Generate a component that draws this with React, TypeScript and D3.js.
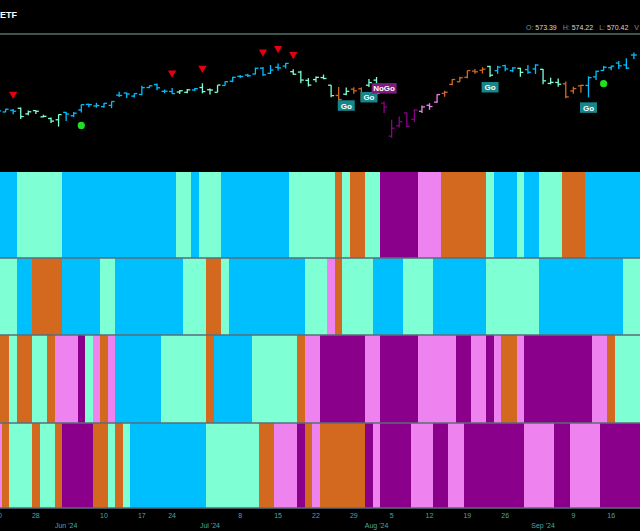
import React, { useEffect } from "react";
import * as d3 from "d3";

// ---------- DATA ----------
const dates = [
  "2024-05-17",
  "2024-05-20", "2024-05-21", "2024-05-22", "2024-05-23", "2024-05-24",
  "2024-05-28", "2024-05-29", "2024-05-30", "2024-05-31",
  "2024-06-03", "2024-06-04", "2024-06-05", "2024-06-06", "2024-06-07",
  "2024-06-10", "2024-06-11", "2024-06-12", "2024-06-13", "2024-06-14",
  "2024-06-17", "2024-06-18", "2024-06-20", "2024-06-21",
  "2024-06-24", "2024-06-25", "2024-06-26", "2024-06-27", "2024-06-28",
  "2024-07-01", "2024-07-02", "2024-07-03", "2024-07-05",
  "2024-07-08", "2024-07-09", "2024-07-10", "2024-07-11", "2024-07-12",
  "2024-07-15", "2024-07-16", "2024-07-17", "2024-07-18", "2024-07-19",
  "2024-07-22", "2024-07-23", "2024-07-24", "2024-07-25", "2024-07-26",
  "2024-07-29", "2024-07-30", "2024-07-31", "2024-08-01", "2024-08-02",
  "2024-08-05", "2024-08-06", "2024-08-07", "2024-08-08", "2024-08-09",
  "2024-08-12", "2024-08-13", "2024-08-14", "2024-08-15", "2024-08-16",
  "2024-08-19", "2024-08-20", "2024-08-21", "2024-08-22", "2024-08-23",
  "2024-08-26", "2024-08-27", "2024-08-28", "2024-08-29", "2024-08-30",
  "2024-09-03", "2024-09-04", "2024-09-05", "2024-09-06",
  "2024-09-09", "2024-09-10", "2024-09-11", "2024-09-12", "2024-09-13",
  "2024-09-16", "2024-09-17", "2024-09-18", "2024-09-19", "2024-09-20",
];

const opens = [
  528.8,
  529.6, 529.3, 530.6, 532.0, 527.9,
  530.3, 525.7, 524.5, 523.6,
  529.0, 526.5, 530.8, 534.9, 533.7,
  533.2, 534.1, 541.6, 543.2, 540.9,
  542.1, 547.2, 549.4, 544.4,
  544.3, 543.9, 543.7, 545.4, 547.2,
  545.6, 543.7, 548.7, 551.8,
  555.4, 556.3, 557.1, 561.4, 557.6,
  562.0, 562.9, 558.8, 558.5, 552.4,
  553.0, 554.5, 548.9, 541.4, 542.3,
  546.0, 546.3, 548.9, 552.6, 535.8,
  511.6, 519.2, 528.6, 523.9, 529.8,
  534.2, 536.5, 542.9, 549.5, 551.4,
  554.7, 559.2, 559.8, 562.6, 559.5,
  563.2, 559.5, 561.2, 560.3, 560.8,
  560.5, 550.2, 550.9, 549.9,
  544.7, 548.4, 548.7, 555.0, 559.7,
  561.7, 565.1, 563.7, 571.0,
];
const highs = [
  529.5,
  531.6, 531.5, 531.4, 532.5, 530.3,
  530.5, 527.3, 525.2, 527.5,
  529.3, 529.2, 534.7, 535.4, 536.0,
  535.8, 537.0, 544.1, 543.3, 542.8,
  548.5, 548.6, 550.1, 545.7,
  546.9, 545.2, 546.2, 546.9, 550.3,
  546.5, 549.0, 551.8, 555.1,
  556.2, 557.2, 561.7, 562.3, 563.7,
  564.8, 565.2, 560.5, 559.5, 554.1,
  555.3, 556.7, 549.1, 547.5, 547.2,
  547.4, 547.3, 553.5, 554.9, 536.9,
  523.6, 525.9, 529.0, 531.3, 534.0,
  535.7, 542.3, 544.9, 553.4, 555.0,
  559.6, 560.8, 562.1, 563.2, 563.1,
  563.9, 562.1, 561.7, 563.7, 564.2,
  560.8, 554.4, 553.8, 551.6,
  547.7, 549.2, 555.4, 559.4, 563.0,
  563.1, 566.6, 568.7, 572.9,
];
const lows = [
  527.5,
  529.2, 529.1, 527.6, 524.2, 526.9,
  527.9, 525.4, 521.3, 518.6,
  522.6, 525.6, 529.0, 532.7, 532.4,
  532.3, 532.1, 540.3, 539.6, 539.9,
  541.6, 546.7, 545.2, 543.0,
  542.6, 542.4, 543.0, 544.6, 542.9,
  542.0, 543.7, 548.6, 551.1,
  554.2, 554.9, 556.8, 555.8, 557.1,
  559.7, 561.1, 556.6, 550.4, 547.9,
  551.0, 553.3, 540.0, 537.5, 541.5,
  542.7, 537.5, 547.6, 539.4, 528.6,
  510.3, 518.0, 518.1, 521.8, 528.6,
  530.9, 536.1, 540.4, 548.9, 551.3,
  553.9, 557.3, 557.4, 554.9, 557.2,
  559.1, 558.3, 555.0, 557.2, 557.1,
  549.5, 549.5, 547.7, 539.4,
  542.7, 543.4, 540.0, 552.7, 559.5,
  559.9, 560.8, 560.8, 568.1,
];
const closes = [
  529.45,
  530.06, 531.36, 529.83, 525.96, 529.44,
  529.81, 526.10, 522.61, 527.37,
  527.80, 528.39, 534.67, 534.66, 534.01,
  535.66, 536.95, 541.36, 542.45, 542.78,
  547.10, 548.49, 547.00, 544.51,
  542.74, 544.83, 545.51, 546.37, 544.22,
  545.34, 549.01, 551.46, 554.64,
  555.28, 555.82, 561.32, 556.48, 559.99,
  561.53, 564.86, 556.94, 552.66, 548.99,
  554.65, 553.78, 541.23, 538.41, 544.44,
  544.76, 542.00, 550.81, 543.01, 532.90,
  517.38, 522.15, 518.66, 530.65, 532.99,
  533.27, 542.04, 543.75, 553.07, 554.31,
  559.61, 558.70, 560.62, 556.22, 562.13,
  560.79, 561.56, 558.30, 558.35, 563.68,
  552.08, 550.95, 549.61, 540.36,
  546.41, 548.79, 554.42, 559.09, 562.01,
  562.84, 563.07, 561.40, 570.98,
];

// trend codes: B = strong Go, A = weak Go, O = amber, P = weak NoGo, M = strong NoGo
const band1 = [
  "B",
  "B", "B", "B", "A", "A",
  "A", "A", "A", "A",
  "B", "B", "B", "B", "B",
  "B", "B", "B", "B", "B",
  "B", "B", "B", "B",
  "B", "A", "A", "B", "A",
  "A", "A", "B", "B",
  "B", "B", "B", "B", "B",
  "B", "B", "A", "A", "A",
  "A", "A", "A", "O", "A",
  "O", "O", "A", "A", "M",
  "M", "M", "M", "M", "P",
  "P", "P", "O", "O", "O",
  "O", "O", "O", "A", "B",
  "B", "B", "A", "B", "B",
  "A", "A", "A", "O",
  "O", "O", "B", "B", "B",
  "B", "B", "B", "B", "B",
];
const band2 = [
  "A",
  "A", "A", "A", "B", "B",
  "O", "O", "O", "O",
  "B", "B", "B", "B", "B",
  "A", "A", "B", "B", "B",
  "B", "B", "B", "B",
  "B", "B", "A", "A", "A",
  "O", "O", "A", "B",
  "B", "B", "B", "B", "B",
  "B", "B", "B", "B", "A",
  "A", "A", "P", "O", "A",
  "A", "A", "A", "B", "B",
  "B", "B", "A", "A", "A",
  "A", "B", "B", "B", "B",
  "B", "B", "B", "A", "A",
  "A", "A", "A", "A", "A",
  "B", "B", "B", "B",
  "B", "B", "B", "B", "B",
  "B", "B", "A", "A", "A",
];
const band3 = [
  "O",
  "O", "O", "A", "O", "O",
  "A", "A", "O", "P",
  "P", "P", "M", "A", "P",
  "O", "P", "B", "B", "B",
  "B", "B", "B", "A",
  "A", "A", "A", "A", "A",
  "O", "B", "B", "B",
  "B", "B", "A", "A", "A",
  "A", "A", "A", "O", "P",
  "P", "M", "M", "M", "M",
  "M", "M", "P", "P", "M",
  "M", "M", "M", "M", "P",
  "P", "P", "P", "P", "M",
  "M", "P", "P", "M", "P",
  "O", "O", "P", "M", "M",
  "M", "M", "M", "M",
  "M", "M", "M", "P", "P",
  "O", "A", "A", "A", "A",
];
const band4 = [
  "P",
  "P", "O", "A", "A", "A",
  "O", "A", "A", "O",
  "M", "M", "M", "M", "O",
  "O", "A", "O", "A", "B",
  "B", "B", "B", "B",
  "B", "B", "B", "B", "B",
  "A", "A", "A", "A",
  "A", "A", "A", "O", "O",
  "P", "P", "P", "M", "O",
  "P", "O", "O", "O", "O",
  "O", "O", "M", "P", "M",
  "M", "M", "M", "P", "P",
  "P", "M", "M", "P", "P",
  "M", "M", "M", "M", "M",
  "M", "M", "M", "P", "P",
  "P", "P", "M", "M",
  "P", "P", "P", "P", "M",
  "M", "M", "M", "M", "M",
];

const trendKeys = ["B", "A", "O", "P", "M"];
const trendColors = ["#00bfff", "#7fffd4", "#d2691e", "#ee82ee", "#8b008b"];

const sellSignals = ["2024-05-22", "2024-06-24", "2024-06-28", "2024-07-11", "2024-07-15", "2024-07-17"];
const buySignals = ["2024-06-05", "2024-09-13"];
const goLabels = ["2024-07-26", "2024-07-31", "2024-08-22", "2024-09-11"];
const noGoLabels = ["2024-08-02"];

const dayTicks = [
  "2024-05-20", "2024-05-28", "2024-06-10", "2024-06-17", "2024-06-24",
  "2024-07-08", "2024-07-15", "2024-07-22", "2024-07-29", "2024-08-05",
  "2024-08-12", "2024-08-19", "2024-08-26", "2024-09-09", "2024-09-16",
];
const monthTicks = ["2024-06-03", "2024-07-01", "2024-08-01", "2024-09-03"];
const monthLabels = ["Jun '24", "Jul '24", "Aug '24", "Sep '24"];

const titleText = "ETF";
const ohlcLabels = ["O:", "H:", "L:", "V"];
const ohlcValues = ["573.39", "574.22", "570.42", ""];

// ---------- COMPONENT ----------
export default function App() {
  useEffect(() => {
    document.body.style.margin = "0";
    document.body.style.background = "#000";
  }, []);

  const W = 640;
  const H = 531;
  const font = "'Liberation Sans', Arial, sans-serif";

  const x = d3.scaleBand<string>().domain(dates).range([-13.335, 645.255]).padding(0);
  const bw = x.bandwidth();
  const cx = (d: string) => (x(d) as number) + bw / 2;
  const y = d3.scaleLinear().domain([500, 580]).range([152, 42.7]);
  const color = d3.scaleOrdinal<string, string>().domain(trendKeys).range(trendColors);

  const idx = (d: string) => dates.indexOf(d);

  const bands = [
    { codes: band1, y0: 172, y1: 258 },
    { codes: band2, y0: 258, y1: 335 },
    { codes: band3, y0: 335, y1: 423 },
    { codes: band4, y0: 423, y1: 508 },
  ];

  const tri = d3.symbol().type(d3.symbolTriangle).size(30);

  return (
    <svg width={W} height={H} style={{ display: "block", background: "#000" }}>
      <rect x={0} y={0} width={W} height={H} fill="#000" />
      {/* header */}
      <text x={0} y={18} fill="#ffffff" fontFamily={font} fontSize={9} fontWeight="bold">
        {titleText}
      </text>
      <text x={526} y={29.5} fontFamily={font} fontSize={7}>
        {ohlcLabels.map((l, i) => (
          <tspan key={i} dx={i === 0 ? 0 : 6}>
            <tspan fill="#8a8a8a">{l} </tspan>
            <tspan fill="#d8d8d8">{ohlcValues[i]}</tspan>
          </tspan>
        ))}
      </text>
      <line x1={0} x2={W} y1={34} y2={34} stroke="#3b5651" strokeWidth={2} />

      {/* price bars */}
      <g>
        {closes.map((c, i) => {
          const d = dates[i];
          const xc = cx(d);
          const col = color(band1[i]);
          return (
            <g key={d} stroke={col} strokeWidth={1.3}>
              <line x1={xc} x2={xc} y1={y(highs[i])} y2={y(lows[i])} />
              <line x1={xc - 3} x2={xc} y1={y(opens[i])} y2={y(opens[i])} />
              <line x1={xc} x2={xc + 3} y1={y(c)} y2={y(c)} />
            </g>
          );
        })}
      </g>

      {/* sell signals */}
      {sellSignals.map((d) => {
        const i = idx(d);
        return (
          <path
            key={d}
            d={tri() as string}
            transform={`translate(${cx(d)},${y(highs[i]) - 15}) rotate(180)`}
            fill="#e3000f"
          />
        );
      })}
      {/* buy signals */}
      {buySignals.map((d) => {
        const i = idx(d);
        return <circle key={d} cx={cx(d)} cy={y(lows[i]) + 13} r={3.6} fill="#22dd22" />;
      })}
      {/* Go labels */}
      {goLabels.map((d) => {
        const i = idx(d);
        const top = y(lows[i]) + 5;
        return (
          <g key={d}>
            <rect x={cx(d) - 8.5} y={top} width={17} height={10.5} fill="#16868a" />
            <text
              x={cx(d)}
              y={top + 8.3}
              textAnchor="middle"
              fill="#ffffff"
              fontFamily={font}
              fontSize={8}
              fontWeight="bold"
            >
              Go
            </text>
          </g>
        );
      })}
      {noGoLabels.map((d) => {
        const i = idx(d);
        const bottom = y(highs[i]) - 8;
        return (
          <g key={d}>
            <rect x={cx(d) - 12.5} y={bottom - 10.5} width={25} height={10.5} fill="#7d1d7d" />
            <text
              x={cx(d)}
              y={bottom - 2.2}
              textAnchor="middle"
              fill="#ffffff"
              fontFamily={font}
              fontSize={8}
              fontWeight="bold"
            >
              NoGo
            </text>
          </g>
        );
      })}

      {/* heat bands */}
      {bands.map((b, bi) => (
        <g key={bi}>
          {b.codes.map((c, i) => (
            <rect
              key={i}
              x={x(dates[i]) as number}
              y={b.y0}
              width={bw + 0.6}
              height={b.y1 - b.y0}
              fill={color(c)}
              shapeRendering="crispEdges"
            />
          ))}
        </g>
      ))}
      {[258, 335, 423, 508].map((yy) => (
        <line key={yy} x1={0} x2={W} y1={yy} y2={yy} stroke="#5a6c78" strokeWidth={1.3} />
      ))}

      {/* x axis */}
      {dayTicks.map((d) => (
        <text
          key={d}
          x={cx(d)}
          y={518}
          textAnchor="middle"
          fill="#4aa6a6"
          fontFamily={font}
          fontSize={7}
        >
          {+d.slice(8, 10)}
        </text>
      ))}
      {monthTicks.map((d, i) => (
        <text
          key={d}
          x={cx(d)}
          y={528}
          textAnchor="middle"
          fill="#4aa6a6"
          fontFamily={font}
          fontSize={7}
        >
          {monthLabels[i]}
        </text>
      ))}
    </svg>
  );
}
